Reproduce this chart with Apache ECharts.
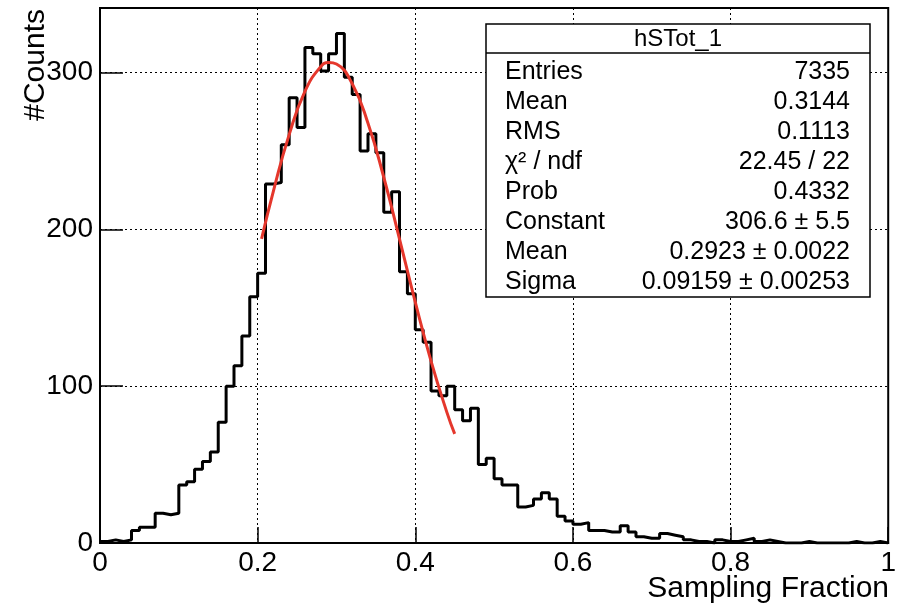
<!DOCTYPE html>
<html>
<head>
<meta charset="utf-8">
<script src="https://cdn.jsdelivr.net/npm/echarts@6/dist/echarts.min.js"></script>
<style>
html,body{margin:0;padding:0;background:#fff;}
#c{width:899px;height:606px;}
</style>
</head>
<body>
<div id="c"></div>
<script>
// ---- data ----
const binWidth = 0.01;
const counts = [
  1, 2, 1, 2, 8, 10, 10, 19, 18, 19,
  37, 39, 47, 52, 58, 77, 100, 113, 132, 157,
  172, 229, 230, 254, 284, 265, 316, 312, 301, 312,
  325, 297, 286, 250, 261, 249, 211, 224, 173, 159,
  136, 128, 97, 94, 100, 85, 78, 86, 50, 54,
  41, 37, 37, 23, 24, 28, 32, 28, 17, 14,
  12, 13, 8, 8, 7, 7, 11, 7, 4, 3,
  3, 6, 5, 4, 2, 1, 1, 0, 2, 1,
  1, 2, 3, 1, 2, 1, 0, 0, 0, 1,
  0, 0, 0, 0, 0, 1, 0, 0, 1, 0
];
const fitX = [0.205, 0.22, 0.24, 0.26, 0.28, 0.29, 0.30, 0.32, 0.34, 0.36, 0.38, 0.40, 0.42, 0.44, 0.45];
const fitY = [194, 224.5, 260.5, 288.1, 303.8, 306.5, 305.5, 292.9, 267.7, 233.3, 193.9, 153.6, 116.0, 83.5, 69.6];
const xTicks = [0, 0.2, 0.4, 0.6, 0.8, 1];
const yTicks = [0, 100, 200, 300];
const statsTitle = 'hSTot_1';
const statsNames = ['Entries', 'Mean', 'RMS', 'χ² / ndf', 'Prob', 'Constant', 'Mean', 'Sigma'];
const statsValues = ['7335', '0.3144', '0.1113', '22.45 / 22', '0.4332', '306.6 ± 5.5', '0.2923 ± 0.0022', '0.09159 ± 0.00253'];
const xTitle = 'Sampling Fraction';
const yTitle = '#Counts';

// ---- build ----
const FONT = '"Liberation Sans", Arial, Helvetica, sans-serif';
const histData = counts.map((c, i) => [i * binWidth, c]);
histData.push([counts.length * binWidth, counts[counts.length - 1]]);
const fitData = fitX.map((x, i) => [x, fitY[i]]);

const chart = echarts.init(document.getElementById('c'), null, {renderer: 'canvas'});

const boxX = 486, boxY = 24, boxW = 384, boxH = 273, titleH = 29, rowH = 30;
const graphics = [
  {type: 'rect', z: 100, shape: {x: boxX, y: boxY, width: boxW, height: boxH},
   style: {fill: '#fff', stroke: '#000', lineWidth: 1.5}},
  {type: 'line', z: 101, shape: {x1: boxX, y1: boxY + titleH, x2: boxX + boxW, y2: boxY + titleH},
   style: {stroke: '#000', lineWidth: 1.5}},
  {type: 'text', z: 102, x: boxX + boxW / 2, y: boxY + titleH / 2 + 1,
   style: {text: statsTitle, font: '24px ' + FONT, fill: '#000', align: 'center', verticalAlign: 'middle'}},
  {type: 'text', z: 102, x: 889, y: 589,
   style: {text: xTitle, font: '30px ' + FONT, fill: '#000', align: 'right', verticalAlign: 'middle'}},
  {type: 'text', z: 102, x: 36, y: 9, rotation: Math.PI / 2,
   style: {text: yTitle, font: '30px ' + FONT, fill: '#000', align: 'right', verticalAlign: 'middle'}}
];
statsNames.forEach((n, i) => {
  const cy = boxY + titleH + rowH / 2 + 4 + i * rowH;
  graphics.push({type: 'text', z: 102, x: boxX + 19, y: cy,
    style: {text: n, font: '25px ' + FONT, fill: '#000', align: 'left', verticalAlign: 'middle'}});
  graphics.push({type: 'text', z: 102, x: boxX + boxW - 20, y: cy,
    style: {text: statsValues[i], font: '25px ' + FONT, fill: '#000', align: 'right', verticalAlign: 'middle'}});
});

chart.setOption({
  animation: false,
  backgroundColor: '#fff',
  grid: {left: 100, right: 10, top: 8, bottom: 63, show: true, borderColor: '#000', borderWidth: 2, backgroundColor: 'transparent'},
  xAxis: {
    type: 'value', min: 0, max: 1, interval: 0.2,
    axisLine: {show: true, onZero: false, lineStyle: {color: '#000', width: 2}},
    axisTick: {show: true, inside: true, length: 16, lineStyle: {color: '#000', width: 1.5}},
    splitLine: {show: true, lineStyle: {color: '#000', width: 1, type: [2, 3]}},
    axisLabel: {color: '#000', fontSize: 28, fontFamily: FONT, margin: 6,
      formatter: v => { const t = xTicks.find(k => Math.abs(k - v) < 1e-9); return t === undefined ? '' : String(t); }}
  },
  yAxis: {
    type: 'value', min: 0, max: 341.25, interval: 100,
    axisLine: {show: true, lineStyle: {color: '#000', width: 2}},
    axisTick: {show: true, inside: true, length: 23, lineStyle: {color: '#000', width: 1.5}},
    splitLine: {show: true, lineStyle: {color: '#000', width: 1, type: [2, 3]}},
    axisLabel: {color: '#000', fontSize: 28, fontFamily: FONT, margin: 7, showMaxLabel: false,
      formatter: v => yTicks.includes(v) ? String(v) : ''}
  },
  series: [
    {type: 'line', data: histData, step: 'end', symbol: 'none', z: 3,
     lineStyle: {color: '#000', width: 3}},
    {type: 'line', data: fitData, smooth: true, symbol: 'none', z: 4,
     lineStyle: {color: '#e5372c', width: 3}}
  ],
  graphic: graphics
});
</script>
</body>
</html>
